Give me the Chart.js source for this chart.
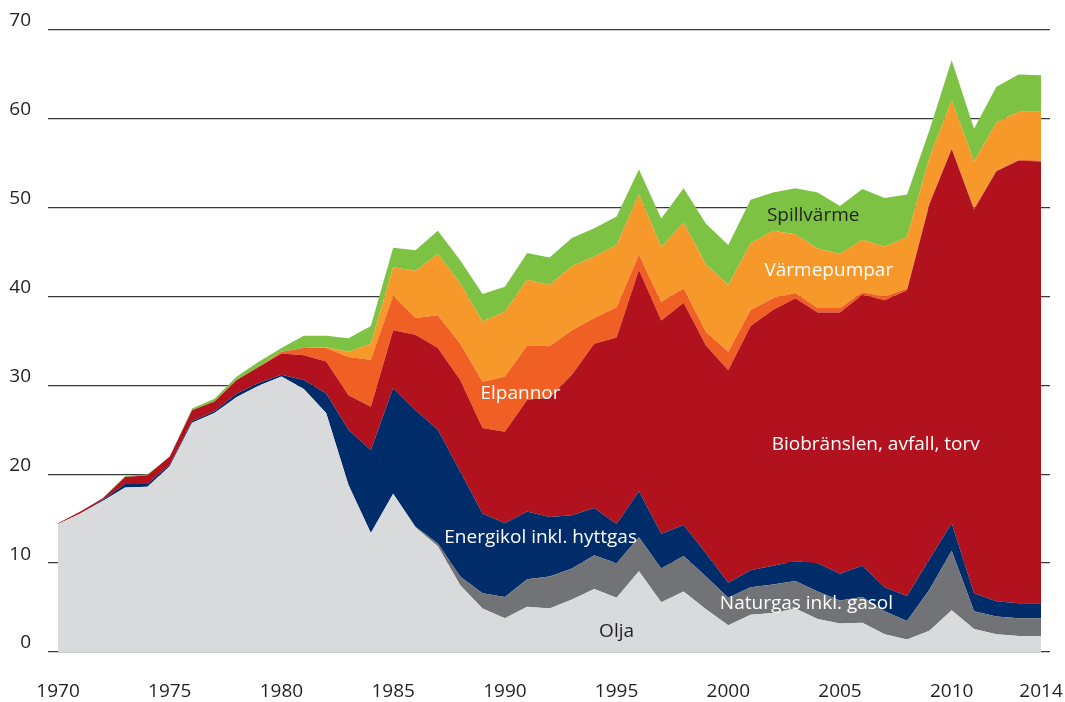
<!DOCTYPE html>
<html>
<head>
<meta charset="utf-8">
<script src="https://cdn.jsdelivr.net/npm/chart.js@4"></script>
<style>
  html, body { margin: 0; padding: 0; background: #fff; }
  #wrap { width: 1065px; height: 702px; }
</style>
</head>
<body>
<div id="wrap"><canvas id="chart"></canvas></div>
<script>
const years = [];
for (let y = 1970; y <= 2014; y++) years.push(y);

const olja = [14.4, 15.6, 17.0, 18.5, 18.6, 20.9, 25.8, 26.9, 28.7, 30.0,
  31.0, 29.6, 26.9, 18.8, 13.4, 17.8, 14.0, 11.9, 7.5, 4.9,
  3.8, 5.1, 4.9, 5.9, 7.1, 6.1, 9.1, 5.6, 6.8, 4.8,
  3.0, 4.2, 4.4, 4.9, 3.7, 3.2, 3.3, 2.0, 1.4, 2.4,
  4.7, 2.6, 2.0, 1.8, 1.8];
const naturgas = [0, 0, 0, 0, 0, 0, 0, 0, 0, 0,
  0, 0, 0, 0, 0, 0, 0.1, 0.3, 1.0, 1.7,
  2.4, 3.1, 3.6, 3.5, 3.8, 3.9, 3.8, 3.8, 4.0, 3.7,
  3.1, 3.1, 3.2, 3.1, 3.1, 2.6, 2.9, 2.6, 2.1, 4.6,
  6.7, 2.0, 2.0, 2.0, 2.0];
const energikol = [0, 0, 0.1, 0.4, 0.3, 0.2, 0.2, 0.2, 0.4, 0.3,
  0.2, 1.0, 2.2, 6.2, 9.3, 11.9, 13.1, 12.8, 11.8, 9.0,
  8.3, 7.6, 6.7, 6.0, 5.3, 4.4, 5.2, 3.9, 3.5, 2.6,
  1.7, 1.9, 2.1, 2.2, 3.2, 3.0, 3.5, 2.7, 2.8, 3.4,
  3.1, 2.0, 1.7, 1.7, 1.7];
const bio = [0.1, 0.2, 0.2, 0.8, 1.0, 0.9, 1.2, 1.1, 1.5, 1.8,
  2.4, 2.8, 3.6, 3.9, 4.9, 6.5, 8.5, 9.2, 10.3, 9.6,
  10.3, 12.6, 13.4, 15.8, 18.5, 21.0, 24.9, 24.0, 25.0, 23.4,
  23.9, 27.5, 28.8, 29.6, 28.2, 29.4, 30.5, 32.3, 34.4, 40.0,
  42.1, 43.2, 48.4, 49.8, 49.7];
const elpannor = [0, 0, 0, 0, 0, 0, 0, 0, 0, 0,
  0.2, 0.8, 1.5, 4.3, 5.3, 3.9, 1.9, 3.7, 4.1, 5.2,
  6.2, 6.1, 5.8, 5.0, 2.9, 3.4, 1.7, 2.1, 1.6, 1.5,
  2.1, 1.8, 1.3, 0.6, 0.5, 0.5, 0.3, 0.4, 0.2, 0.1,
  0.1, 0.1, 0.1, 0.1, 0.1];
const varmepumpar = [0, 0, 0, 0, 0, 0, 0, 0, 0, 0,
  0, 0, 0.1, 0.6, 1.8, 3.2, 5.3, 6.9, 6.8, 6.8,
  7.3, 7.4, 6.9, 7.2, 6.9, 7.0, 6.8, 6.2, 7.4, 7.6,
  7.5, 7.5, 7.6, 6.6, 6.7, 6.1, 5.9, 5.6, 5.8, 5.1,
  5.4, 5.3, 5.4, 5.4, 5.5];
const spillvarme = [0, 0, 0, 0.1, 0.1, 0, 0.2, 0.3, 0.4, 0.6,
  0.4, 1.4, 1.3, 1.5, 2.0, 2.2, 2.3, 2.6, 2.6, 3.1,
  2.8, 3.0, 3.1, 3.2, 3.2, 3.2, 2.8, 3.2, 3.9, 4.6,
  4.5, 4.9, 4.3, 5.2, 6.3, 5.4, 5.7, 5.5, 4.8, 3.1,
  4.5, 3.7, 4.0, 4.2, 4.1];

const xTicks = [1970, 1975, 1980, 1985, 1990, 1995, 2000, 2005, 2010, 2014];
const yTicks = [0, 10, 20, 30, 40, 50, 60, 70];

const series = [
  { name: 'Olja', values: olja, color: '#d9dadc', text: '#231f20', at: [1995.0, 2.25] },
  { name: 'Naturgas inkl. gasol', values: naturgas, color: '#727376', text: '#ffffff', at: [2003.5, 5.4] },
  { name: 'Energikol inkl. hyttgas', values: energikol, color: '#002c69', text: '#ffffff', at: [1991.6, 12.9] },
  { name: 'Biobränslen, avfall, torv', values: bio, color: '#b2121e', text: '#ffffff', at: [2006.6, 23.3] },
  { name: 'Elpannor', values: elpannor, color: '#f05f24', text: '#ffffff', at: [1990.7, 29.1] },
  { name: 'Värmepumpar', values: varmepumpar, color: '#f6982a', text: '#ffffff', at: [2004.5, 42.9] },
  { name: 'Spillvärme', values: spillvarme, color: '#7dc243', text: '#231f20', at: [2003.8, 49.1] }
];

const FONT = '"Open Sans", sans-serif';

// series names written inside the areas
const areaLabels = {
  id: 'areaLabels',
  afterDatasetsDraw(chart) {
    const ctx = chart.ctx;
    const xs = chart.scales.x, ys = chart.scales.y;
    ctx.save();
    ctx.font = '19px ' + FONT;
    ctx.textAlign = 'center';
    ctx.textBaseline = 'middle';
    series.forEach(s => {
      ctx.fillStyle = s.text;
      ctx.fillText(s.name, xs.getPixelForValue(s.at[0]), ys.getPixelForValue(s.at[1]));
    });
    ctx.restore();
  }
};

const ctx = document.getElementById('chart').getContext('2d');

const chart = new Chart(ctx, {
  type: 'line',
  data: {
    labels: years,
    datasets: series.map((s, i) => ({
      label: s.name,
      data: years.map((y, j) => ({ x: y, y: s.values[j] })),
      backgroundColor: s.color,
      borderColor: s.color,
      borderWidth: 0,
      pointRadius: 0,
      tension: 0,
      fill: i === 0 ? 'origin' : '-1'
    }))
  },
  options: {
    responsive: true,
    maintainAspectRatio: false,
    animation: false,
    layout: {
      padding: { top: 30, right: 15, left: 0, bottom: 0 }
    },
    plugins: {
      legend: { display: false },
      tooltip: { enabled: false }
    },
    scales: {
      x: {
        type: 'linear',
        min: 1969.55,
        max: 2014.4,
        grid: { display: false, drawTicks: false },
        border: { display: false },
        afterBuildTicks: scale => {
          scale.ticks = xTicks.map(v => ({ value: v }));
        },
        afterFit: scale => {
          scale.height = 50;
          scale.paddingLeft = 0;
          scale.paddingRight = 0;
        },
        ticks: {
          autoSkip: false,
          maxRotation: 0,
          padding: 28,
          color: '#231f20',
          font: { family: FONT, size: 19 },
          callback: v => String(v)
        }
      },
      y: {
        stacked: true,
        min: 0,
        max: 70,
        afterBuildTicks: scale => {
          scale.ticks = yTicks.map(v => ({ value: v }));
        },
        afterFit: scale => { scale.width = 48; },
        grid: { color: '#3a3a3a', lineWidth: 1.3, drawTicks: false },
        border: { display: false },
        ticks: {
          padding: 17,
          labelOffset: -9,
          color: '#231f20',
          font: { family: FONT, size: 19 }
        }
      }
    }
  },
  plugins: [areaLabels]
});
</script>
</body>
</html>
